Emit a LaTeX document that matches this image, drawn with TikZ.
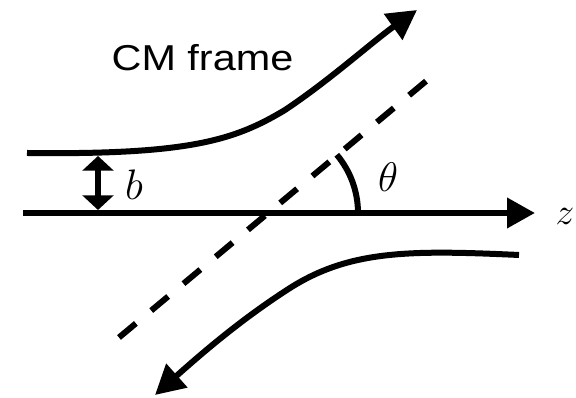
\RequirePackage{fix-cm}
\documentclass[tikz,border=0pt]{standalone}
\usepackage{fontspec}
\newfontfamily\framefont[FakeStretch=1.15]{Liberation Sans}
\usetikzlibrary{arrows.meta}

\begin{document}
\begin{tikzpicture}[x=0.75pt,y=0.75pt,
  thickln/.style={line width=4.5pt},
  bigtip/.style={-{Triangle[length=22pt,width=23pt]}},
  scatdash/.style={line width=4.5pt,dash pattern=on 16.5pt off 15pt}]
  \useasboundingbox (0,0) rectangle (576,398);
  % Title
  \node[font=\framefont\fontsize{27}{32}\selectfont] (title) at (202.5,340.5) {CM frame};
  % Beam axis
  \coordinate (zstart) at (23,185);
  \coordinate (zend) at (535,185);
  \draw[thickln,-{Triangle[length=21pt,width=22pt]}] (zstart) -- (zend);
  \node[font=\fontsize{28}{32}\selectfont] (zlab) at (565,182) {$z$};
  % Incoming and outgoing paths
  \coordinate (inA) at (27,245);
  \coordinate (bendA) at (285,288);
  \coordinate (outA) at (417,388);
  \draw[thickln,bigtip] (inA) .. controls (190,243) and (235,258) .. (bendA)
    .. controls (330,318) and (372,356) .. (outA);
  \coordinate (inB) at (519,143);
  \coordinate (bendB) at (290,110);
  \coordinate (outB) at (155,3);
  \draw[thickln,bigtip] (inB) .. controls (410,148) and (350,148) .. (bendB)
    .. controls (240,78) and (200,43) .. (outB);
  % Impact parameter
  \coordinate (btop) at (98,242);
  \coordinate (bbot) at (98,188);
  \draw[thickln,{Triangle[length=11pt,width=23pt]}-{Triangle[length=11pt,width=23pt]}] (btop) -- (bbot);
  \node[font=\fontsize{32}{36}\selectfont] (blab) at (134,213) {$b$};
  % Scattering direction and angle
  \coordinate (dlow) at (119,60.5);
  \coordinate (dhigh) at (431,321);
  \coordinate (O) at (267.4,185);
  \draw[scatdash] (dlow) -- (dhigh);
  \draw[thickln] (O) ++(90.6,0) arc[start angle=0,end angle=40,radius=90.6];
  \node[font=\fontsize{31}{35}\selectfont] (thlab) at (388,220.5) {$\theta$};
\end{tikzpicture}
\end{document}
